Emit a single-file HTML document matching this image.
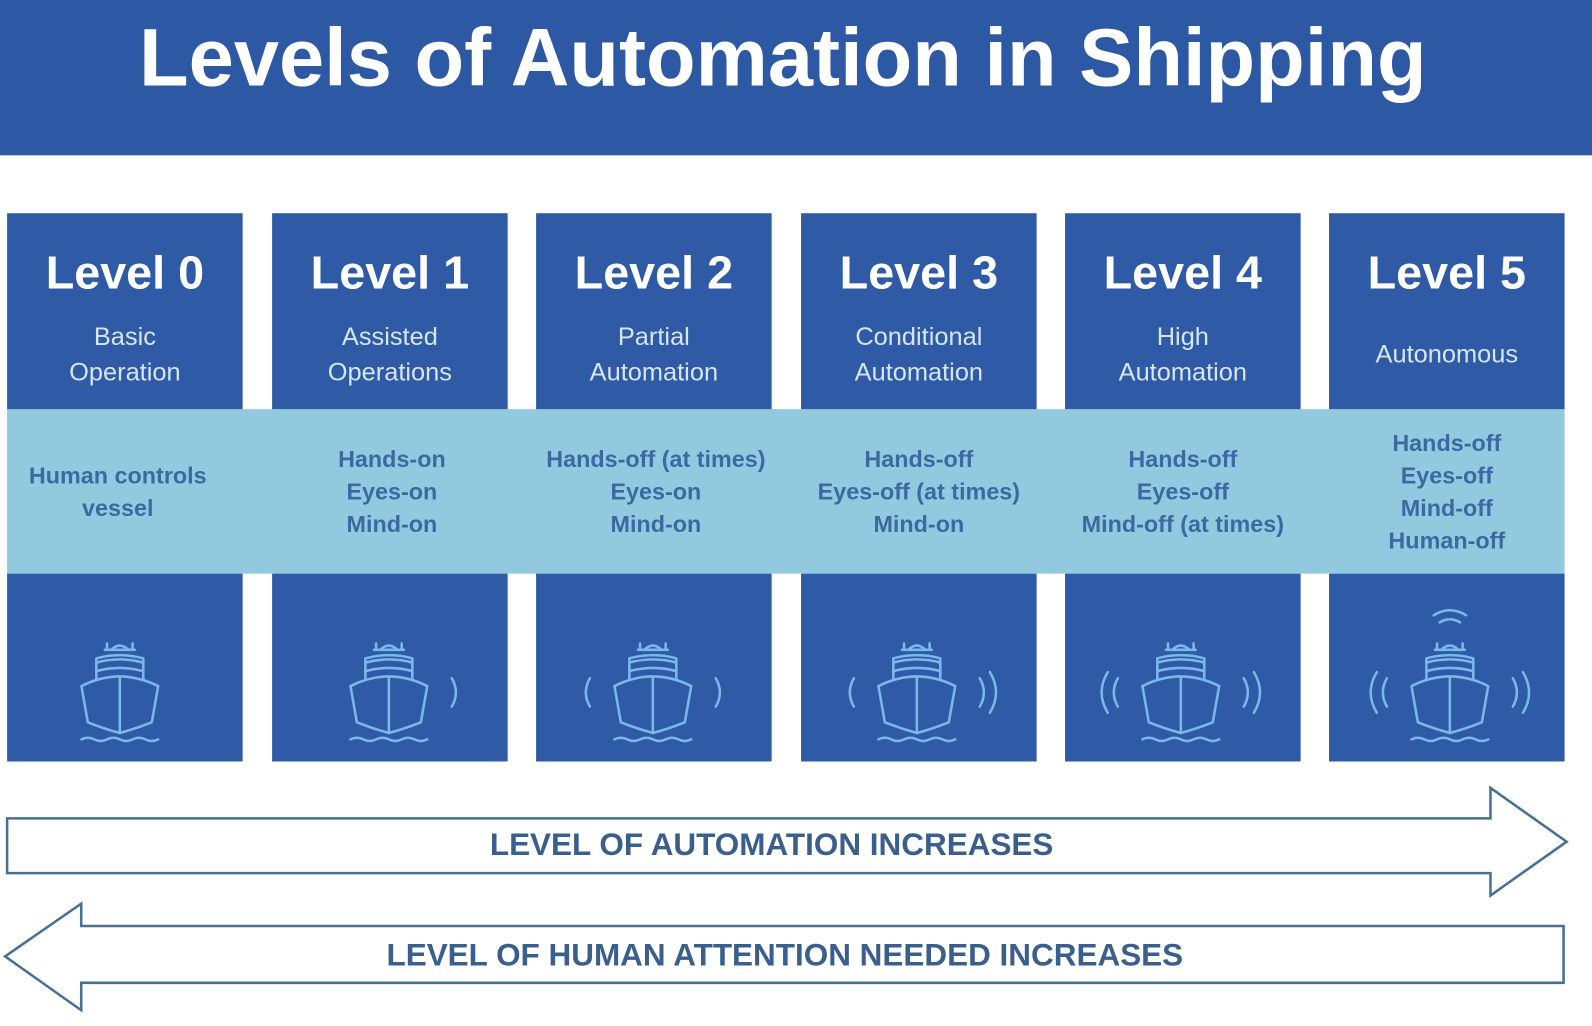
<!DOCTYPE html>
<html><head><meta charset="utf-8"><style>
body{margin:0;width:1592px;height:1026px;background:#fff;position:relative;overflow:hidden;font-family:"Liberation Sans",sans-serif}
#w{position:absolute;left:0;top:0;width:1568px;height:1010px;transform:scale(1.01531);transform-origin:0 0}
.hdr{position:absolute;left:0;top:0;width:1568px;height:153px;background:#2d58a4;color:#fff;font-weight:bold;font-size:80px;text-align:center;line-height:114px;padding-right:26px;box-sizing:border-box}
.box{position:absolute;width:232px;background:#2f5aa6;color:#fff;text-align:center}
.top{top:210px;height:193px}
.bot{top:565px;height:185px}
.lv{font-weight:bold;font-size:46px;margin-top:34px;line-height:48px}
.sub{font-size:25px;line-height:35px;color:#d6e6f7;margin-top:23px}
.band{position:absolute;left:7px;top:403px;width:1534px;height:162px;background:#92c9df}
.bt{position:absolute;top:403px;width:232px;height:162px;display:flex;align-items:center;justify-content:center;text-align:center;color:#3b6aa2;font-weight:bold;font-size:23px;line-height:32px;white-space:nowrap}
</style></head><body><div id="w">
<div class="hdr">Levels of Automation in Shipping</div>
<div class="band"></div>

<div class="box top" style="left:7px"><div class="lv">Level 0</div><div class="sub">Basic<br>Operation</div></div>
<div class="box top" style="left:268px"><div class="lv">Level 1</div><div class="sub">Assisted<br>Operations</div></div>
<div class="box top" style="left:528px"><div class="lv">Level 2</div><div class="sub">Partial<br>Automation</div></div>
<div class="box top" style="left:789px"><div class="lv">Level 3</div><div class="sub">Conditional<br>Automation</div></div>
<div class="box top" style="left:1049px"><div class="lv">Level 4</div><div class="sub">High<br>Automation</div></div>
<div class="box top" style="left:1309px"><div class="lv">Level 5</div><div class="sub" style="margin-top:40px">Autonomous</div></div>

<div class="bt" style="left:0px">Human controls<br>vessel</div>
<div class="bt" style="left:270px">Hands-on<br>Eyes-on<br>Mind-on</div>
<div class="bt" style="left:530px">Hands-off (at times)<br>Eyes-on<br>Mind-on</div>
<div class="bt" style="left:789px">Hands-off<br>Eyes-off (at times)<br>Mind-on</div>
<div class="bt" style="left:1049px">Hands-off<br>Eyes-off<br>Mind-off (at times)</div>
<div class="bt" style="left:1309px">Hands-off<br>Eyes-off<br>Mind-off<br>Human-off</div>

<div class="box bot" style="left:7px"></div>
<div class="box bot" style="left:268px"></div>
<div class="box bot" style="left:528px"></div>
<div class="box bot" style="left:789px"></div>
<div class="box bot" style="left:1049px"></div>
<div class="box bot" style="left:1309px"></div>

<svg width="1568" height="1010" style="position:absolute;left:0;top:0">
<defs>
<g id="ship" fill="none" stroke="#7ab8ea" stroke-width="2.4" stroke-linejoin="round" stroke-linecap="round" transform="scale(1.05)">
<path d="M-12,-40 v-6 M12,-40 v-6 M-14,-40 h28 M-8,-40 q8,-8 16,0"/>
<path d="M-22,-12 L-22,-32 Q0,-38 22,-32 L22,-12"/>
<path d="M-22,-28 q22,-6 44,0 M-22,-20 q22,-6 44,0"/>
<path d="M-36,-6 Q0,-24 36,-6 L30,28 Q15,34 0,38 Q-15,34 -30,28 Z"/>
<path d="M0,-14 V38"/>
<path d="M-36,44 q6,-3 12,0 t12,0 t12,0 t12,0 t12,0 t12,0"/>
</g>
<path id="r1" d="M0,-14 q8,14 0,28" fill="none" stroke="#7ab8ea" stroke-width="2.5" stroke-linecap="round"/>
<path id="r2" d="M0,-20 q12,20 0,40" fill="none" stroke="#7ab8ea" stroke-width="2.5" stroke-linecap="round"/>
<path id="l1" d="M0,-14 q-8,14 0,28" fill="none" stroke="#7ab8ea" stroke-width="2.5" stroke-linecap="round"/>
<path id="l2" d="M0,-20 q-12,20 0,40" fill="none" stroke="#7ab8ea" stroke-width="2.5" stroke-linecap="round"/>
</defs>
<use href="#ship" x="118" y="682"/>
<use href="#ship" x="383" y="682"/><use href="#r1" x="445" y="682"/>
<use href="#ship" x="643" y="682"/><use href="#r1" x="705" y="682"/><use href="#l1" x="581" y="682"/>
<use href="#ship" x="903" y="682"/><use href="#l1" x="841" y="682"/><use href="#r1" x="965" y="682"/><use href="#r2" x="975" y="682"/>
<use href="#ship" x="1163" y="682"/><use href="#l1" x="1101" y="682"/><use href="#l2" x="1091" y="682"/><use href="#r1" x="1225" y="682"/><use href="#r2" x="1235" y="682"/>
<use href="#ship" x="1428" y="682"/><use href="#l1" x="1366" y="682"/><use href="#l2" x="1356" y="682"/><use href="#r1" x="1490" y="682"/><use href="#r2" x="1500" y="682"/>
<path d="M1412,606 q16,-10 32,0 M1418,613 q10,-6 20,0" fill="none" stroke="#7ab8ea" stroke-width="2.5" stroke-linecap="round"/>

<path d="M7,806 H1468 V776 L1543,829 L1468,882 V860 H7 Z" fill="#fff" stroke="#4a6f94" stroke-width="2.5" stroke-linejoin="miter"/>
<path d="M1540,912 H80 V890 L5,942 L80,995 V968 H1540 Z" fill="#fff" stroke="#4a6f94" stroke-width="2.5"/>
<text x="760" y="842" text-anchor="middle" font-family="Liberation Sans" font-weight="bold" font-size="31" fill="#3a5f8d">LEVEL OF AUTOMATION INCREASES</text>
<text x="773" y="951" text-anchor="middle" font-family="Liberation Sans" font-weight="bold" font-size="31" fill="#3a5f8d">LEVEL OF HUMAN ATTENTION NEEDED INCREASES</text>
</svg>
</div></body></html>
